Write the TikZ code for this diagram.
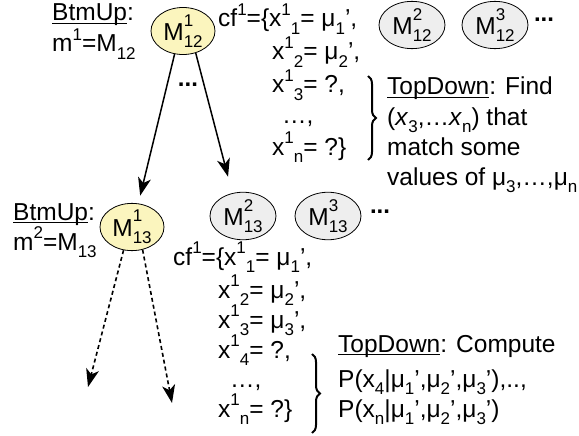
\documentclass[tikz,border=0pt]{standalone}
\usepackage{fontspec}
\setmainfont{Liberation Sans}
\usetikzlibrary{arrows.meta,decorations.pathreplacing,shapes.geometric}
\definecolor{ylw}{RGB}{251,245,190}
\definecolor{gry}{RGB}{238,238,238}
\newcommand\up[1]{\raisebox{0.48em}{\fontsize{17}{17}\selectfont#1}}
\newcommand\dn[1]{\raisebox{-0.3em}{\fontsize{17}{17}\selectfont#1}}
\newcommand\Mst[2]{M\makebox[0pt][l]{\raisebox{0.58em}{\fontsize{17}{17}\selectfont#1}}\raisebox{-0.3em}{\fontsize{17}{17}\selectfont#2}}
\newcommand\ul[1]{\setbox0\hbox{#1}\rlap{\rule[-0.14em]{\wd0}{1.3pt}}\box0}
\begin{document}
\begin{tikzpicture}[x=1pt,y=-1pt,
  every node/.style={font=\fontsize{24.5}{30}\selectfont, inner sep=0pt},
  txt/.style={anchor=base west},
  yell/.style={ellipse, draw, line width=0.8pt, fill=ylw, minimum width=64pt, minimum height=40pt},
  grey/.style={ellipse, draw, line width=0.8pt, fill=gry, minimum width=66pt, minimum height=34pt},
  arr/.style={line width=1.5pt, -{Stealth[length=18pt,width=13pt,inset=5pt]}},
  darr/.style={line width=1.6pt, dash pattern=on 4pt off 3pt, -{Stealth[length=18pt,width=13pt,inset=5pt]}},
  brc/.style={decorate, decoration={brace, amplitude=8pt}, line width=2pt},
  dots/.style={font=\fontsize{24}{30}\selectfont\bfseries}
]
\useasboundingbox (0,0) rectangle (579,436);
% top level
\node[txt] (bu1) at (52,21) {\ul{BtmUp}:};
\node[txt] (m1) at (52,52) {m\up{1}=M\dn{12}};
\node[yell] (m121) at (183,31) {\Mst{1}{12}};
\node[grey] (m122) at (412,25) {\Mst{2}{12}};
\node[grey] (m123) at (495,25) {\Mst{3}{12}};
\node[dots] (dt1) at (544,20) {...};
\node[txt] (c1) at (218,27) {cf\up{1}=\{x\up{1}\dn{1}= μ\dn{1}',};
\node[txt] (c2) at (272,60) {x\up{1}\dn{2}= μ\dn{2}',};
\node[txt] (c3) at (272,93) {x\up{1}\dn{3}= ?,};
\node[txt] (c4) at (282,124) {…,};
\node[txt] (c5) at (272,155) {x\up{1}\dn{n}= ?\}};
\coordinate (b1t) at (368,76);
\coordinate (b1b) at (368,160);
\draw[brc] (b1t) -- (b1b);
\node[txt] (td1) at (387,95) {\ul{TopDown}: Find};
\node[txt] (td2) at (387,125) {(\textit{x}\dn{3},…\textit{x}\dn{n}) that};
\node[txt] (td3) at (387,155) {match some};
\node[txt] (td4) at (387,185) {values of μ\dn{3},…,μ\dn{n}};
\node[dots] (dtm) at (188,85) {...};
% second level
\node[txt] (bu2) at (13,220) {\ul{BtmUp}:};
\node[txt] (m2) at (13,250) {m\up{2}=M\dn{13}};
\node[yell] (m131) at (132,227) {\Mst{1}{13}};
\node[grey] (m132) at (243,216) {\Mst{2}{13}};
\node[grey] (m133) at (328,216) {\Mst{3}{13}};
\node[dots] (dt2) at (380,212) {...};
\draw[arr, shorten >=8pt] (m121.250) -- (m131.75);
\draw[arr, shorten >=17pt] (m121.300) -- (m132.115);
\node[txt] (e1) at (173,265) {cf\up{1}=\{x\up{1}\dn{1}= μ\dn{1}',};
\node[txt] (e2) at (218,298) {x\up{1}\dn{2}= μ\dn{2}',};
\node[txt] (e3) at (218,328) {x\up{1}\dn{3}= μ\dn{3}',};
\node[txt] (e4) at (218,358) {x\up{1}\dn{4}= ?,};
\node[txt] (e5) at (230,387) {…,};
\node[txt] (e6) at (218,417) {x\up{1}\dn{n}= ?\}};
\coordinate (b2t) at (312,354);
\coordinate (b2b) at (312,433);
\draw[brc] (b2t) -- (b2b);
\node[txt] (tc1) at (338,352) {\ul{TopDown}: Compute};
\node[txt] (tc2) at (338,387) {P(x\dn{4}|μ\dn{1}',μ\dn{2}',μ\dn{3}'),..,};
\node[txt] (tc3) at (338,417) {P(x\dn{n}|μ\dn{1}',μ\dn{2}',μ\dn{3}')};
% dashed
\coordinate (d1) at (88,387);
\coordinate (d2) at (172,403);
\draw[darr] (m131.250) -- (d1);
\draw[darr] (m131.295) -- (d2);
\end{tikzpicture}
\end{document}
